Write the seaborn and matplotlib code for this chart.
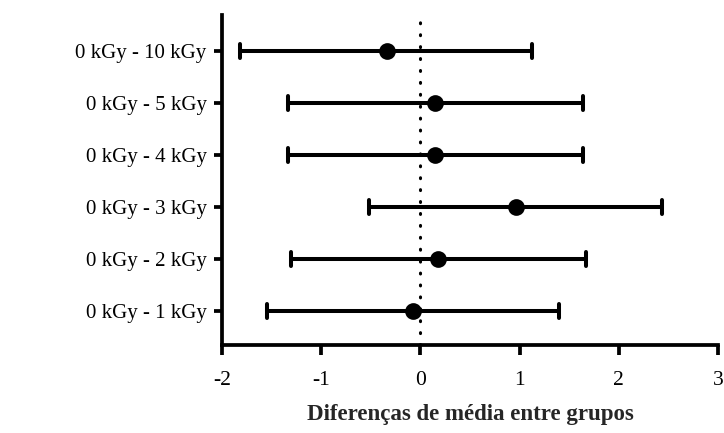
import matplotlib
matplotlib.use("Agg")
import matplotlib.pyplot as plt
import seaborn as sns
import pandas as pd

# Data
comparisons = ["0 kGy - 10 kGy", "0 kGy - 5 kGy", "0 kGy - 4 kGy",
               "0 kGy - 3 kGy", "0 kGy - 2 kGy", "0 kGy - 1 kGy"]
mean_diff = [-0.34, 0.15, 0.15, 0.96, 0.18, -0.07]
ci_low = [-1.82, -1.33, -1.33, -0.52, -1.30, -1.55]
ci_high = [1.13, 1.64, 1.64, 2.44, 1.67, 1.40]
x_ticks = [-2, -1, 0, 1, 2, 3]

sns.set_style("ticks")
plt.rcParams["font.family"] = ["Liberation Serif", "DejaVu Serif"]

rows = []
for c, lo, m, hi in zip(comparisons, ci_low, mean_diff, ci_high):
    for v in (lo, m, hi):
        rows.append({"comparacao": c, "valor": v})
df = pd.DataFrame(rows)

fig = plt.figure(figsize=(7.24, 4.33), dpi=100)
ax = fig.add_axes([0.3066, 0.2032, 0.6851, 0.7622])

ax.axvline(0, color="black", lw=2.2, linestyle=(0, (0.3, 3.6)),
           dash_capstyle="round", zorder=1)

sns.pointplot(data=df, x="valor", y="comparacao", order=comparisons,
              estimator="median", errorbar=("pi", 100),
              linestyle="none", marker="o", color="black",
              markersize=10, err_kws={"linewidth": 2.9},
              capsize=0.26, ax=ax, zorder=3)

ax.set_xlim(-2, 3)
ax.set_ylim(5.65, -0.69)
ax.set_xticks(x_ticks)
ax.set_xticklabels([str(t) for t in x_ticks])
ax.set_ylabel("")
ax.set_xlabel("Diferenças de média entre grupos", fontsize=16.5,
              fontweight="bold", labelpad=10)

for side in ("top", "right"):
    ax.spines[side].set_visible(False)
for side in ("left", "bottom"):
    ax.spines[side].set_linewidth(2.7)
    ax.spines[side].set_color("black")

ax.tick_params(axis="x", length=7, width=2.7, labelsize=15.5, pad=12, colors="black")
ax.tick_params(axis="y", length=6, width=2.7, labelsize=15, pad=5, colors="black")

fig.savefig("out.png", dpi=100)
